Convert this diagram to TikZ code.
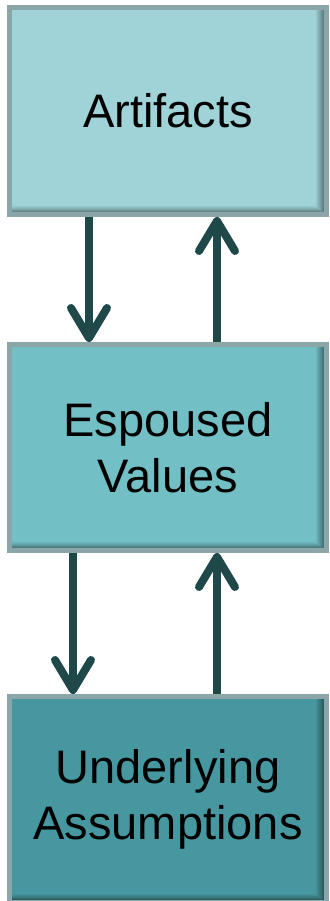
\documentclass[tikz,border=0pt]{standalone}
\usepackage{fontspec}
\setmainfont{Liberation Sans}
\usetikzlibrary{arrows.meta}
\definecolor{artfill}{RGB}{159,211,215}
\definecolor{valfill}{RGB}{114,191,197}
\definecolor{assfill}{RGB}{70,151,159}
\definecolor{boxline}{RGB}{138,166,168}
\definecolor{arrowcol}{RGB}{31,72,73}

\tikzset{
    layer/.style={draw=boxline, line width=5pt, fill=#1, inner sep=0pt,
        minimum width=317pt, minimum height=206pt, align=center,
        font=\fontsize{47}{56}\selectfont,
        path picture={
            \foreach \k in {1,...,8}{
                \pgfmathtruncatemacro\shadepct{100-5*\k}
                \fill[#1!\shadepct!black]
                    ([xshift={-2.5pt-(9-\k)*1pt}]path picture bounding box.north east)
                    rectangle ([xshift={-2.5pt-(8-\k)*1pt}]path picture bounding box.south east);
                \fill[#1!\shadepct!black]
                    ([yshift={2.5pt+(8-\k)*0.8pt}]path picture bounding box.south west)
                    rectangle ([yshift={2.5pt+(7-\k)*0.8pt}, xshift={-2.5pt-(9-\k)*1pt}]path picture bounding box.south east);
            }
        }},
    flow/.style={draw=arrowcol, line width=8pt,
        -{Straight Barb[length=30pt, width=36pt, round]}}
}

\begin{document}
\begin{tikzpicture}[x=1pt, y=1pt]
    \useasboundingbox (0, 0) rectangle (329, -901);
    % Layers
    \node[layer=artfill, minimum height=207pt] (artifacts) at (168, -111) {Artifacts};
    \node[layer=valfill] (values) at (168, -447.5) {Espoused\\Values};
    \node[layer=assfill] (assumptions) at (168, -799.5) {Underlying\\Assumptions};
    % Arrows
    \draw[flow] ([xshift=-79pt]artifacts.south) -- ([xshift=-79pt]values.north);
    \draw[flow] ([xshift=49pt]values.north) -- ([xshift=49pt]artifacts.south);
    \draw[flow] ([xshift=-95pt]values.south) -- ([xshift=-95pt]assumptions.north);
    \draw[flow] ([xshift=49pt]assumptions.north) -- ([xshift=49pt]values.south);
\end{tikzpicture}
\end{document}
